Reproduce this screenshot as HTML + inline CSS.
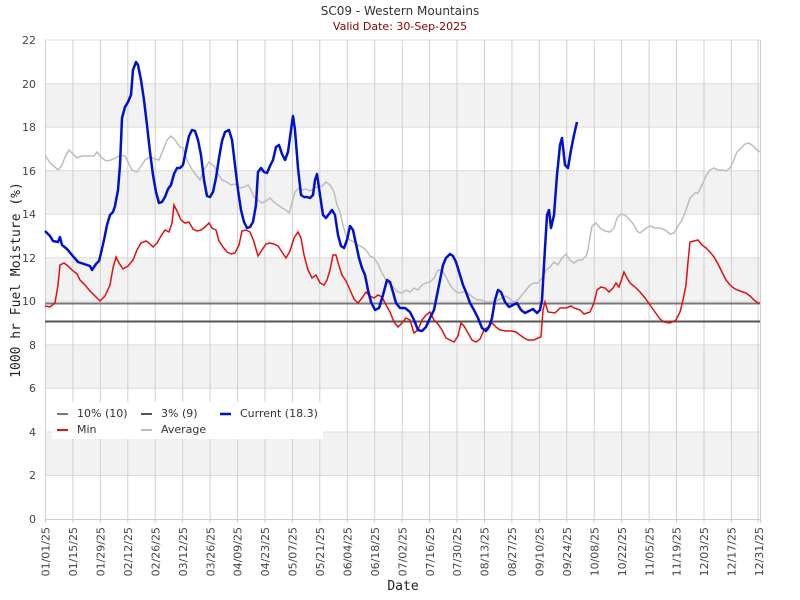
<!DOCTYPE html>
<html><head><meta charset="utf-8"><style>
body{margin:0;background:#fff;}
svg{display:block;font-family:"DejaVu Sans","Liberation Sans",sans-serif;}
</style></head><body>
<svg width="800" height="600" viewBox="0 0 800 600" xmlns="http://www.w3.org/2000/svg">
<rect width="800" height="600" fill="#fff"/>
<text x="400" y="15" text-anchor="middle" font-size="12" fill="#333">SC09 - Western Mountains</text>
<text x="400" y="30" text-anchor="middle" font-size="11" fill="#8b0000">Valid Date: 30-Sep-2025</text>
<!-- bands -->
<g fill="#f2f2f2">
<rect x="45" y="432" width="715" height="43.5"/>
<rect x="45" y="345" width="715" height="43.5"/>
<rect x="45" y="258" width="715" height="43.5"/>
<rect x="45" y="170.7" width="715" height="43.5"/>
<rect x="45" y="83.6" width="715" height="43.5"/>
</g>
<g stroke="#dcdcdc" stroke-width="1">
<line x1="45" y1="475.5" x2="760" y2="475.5"/><line x1="45" y1="432" x2="760" y2="432"/>
<line x1="45" y1="388.4" x2="760" y2="388.4"/><line x1="45" y1="344.9" x2="760" y2="344.9"/>
<line x1="45" y1="301.3" x2="760" y2="301.3"/><line x1="45" y1="257.8" x2="760" y2="257.8"/>
<line x1="45" y1="214.2" x2="760" y2="214.2"/><line x1="45" y1="170.7" x2="760" y2="170.7"/>
<line x1="45" y1="127.1" x2="760" y2="127.1"/><line x1="45" y1="83.6" x2="760" y2="83.6"/>
<line x1="45" y1="40" x2="760" y2="40"/>
</g>
<g stroke="#cfcfcf" stroke-width="1">
<line x1="45.5" y1="40" x2="45.5" y2="523"/><line x1="72.9" y1="40" x2="72.9" y2="523"/><line x1="100.3" y1="40" x2="100.3" y2="523"/><line x1="127.8" y1="40" x2="127.8" y2="523"/><line x1="155.2" y1="40" x2="155.2" y2="523"/><line x1="182.7" y1="40" x2="182.7" y2="523"/><line x1="210.1" y1="40" x2="210.1" y2="523"/><line x1="237.5" y1="40" x2="237.5" y2="523"/><line x1="265" y1="40" x2="265" y2="523"/><line x1="292.4" y1="40" x2="292.4" y2="523"/><line x1="319.8" y1="40" x2="319.8" y2="523"/><line x1="347.3" y1="40" x2="347.3" y2="523"/><line x1="374.7" y1="40" x2="374.7" y2="523"/><line x1="402.2" y1="40" x2="402.2" y2="523"/><line x1="429.6" y1="40" x2="429.6" y2="523"/><line x1="457" y1="40" x2="457" y2="523"/><line x1="484.5" y1="40" x2="484.5" y2="523"/><line x1="511.9" y1="40" x2="511.9" y2="523"/><line x1="539.3" y1="40" x2="539.3" y2="523"/><line x1="566.8" y1="40" x2="566.8" y2="523"/><line x1="594.2" y1="40" x2="594.2" y2="523"/><line x1="621.7" y1="40" x2="621.7" y2="523"/><line x1="649.1" y1="40" x2="649.1" y2="523"/><line x1="676.5" y1="40" x2="676.5" y2="523"/><line x1="704" y1="40" x2="704" y2="523"/><line x1="731.4" y1="40" x2="731.4" y2="523"/><line x1="758" y1="40" x2="758" y2="523"/><line x1="760.5" y1="40" x2="760.5" y2="523"/>
</g>
<line x1="45" y1="519.5" x2="760" y2="519.5" stroke="#cfcfcf"/>
<g font-size="11" fill="#444" text-anchor="end">
<text x="36" y="523">0</text><text x="36" y="479">2</text><text x="36" y="436">4</text><text x="36" y="392">6</text><text x="36" y="349">8</text><text x="36" y="305">10</text><text x="36" y="262">12</text><text x="36" y="218">14</text><text x="36" y="175">16</text><text x="36" y="131">18</text><text x="36" y="88">20</text><text x="36" y="44">22</text>
</g>
<g font-size="11" fill="#444" text-anchor="end">
<text transform="translate(49.5,527) rotate(-90)">01/01/25</text><text transform="translate(77,527) rotate(-90)">01/15/25</text><text transform="translate(104.5,527) rotate(-90)">01/29/25</text><text transform="translate(132,527) rotate(-90)">02/12/25</text><text transform="translate(159.5,527) rotate(-90)">02/26/25</text><text transform="translate(187,527) rotate(-90)">03/12/25</text><text transform="translate(214.5,527) rotate(-90)">03/26/25</text><text transform="translate(241.5,527) rotate(-90)">04/09/25</text><text transform="translate(269,527) rotate(-90)">04/23/25</text><text transform="translate(296.5,527) rotate(-90)">05/07/25</text><text transform="translate(324,527) rotate(-90)">05/21/25</text><text transform="translate(351.5,527) rotate(-90)">06/04/25</text><text transform="translate(379,527) rotate(-90)">06/18/25</text><text transform="translate(406.5,527) rotate(-90)">07/02/25</text><text transform="translate(434,527) rotate(-90)">07/16/25</text><text transform="translate(461,527) rotate(-90)">07/30/25</text><text transform="translate(488.5,527) rotate(-90)">08/13/25</text><text transform="translate(516,527) rotate(-90)">08/27/25</text><text transform="translate(543.5,527) rotate(-90)">09/10/25</text><text transform="translate(571,527) rotate(-90)">09/24/25</text><text transform="translate(598.5,527) rotate(-90)">10/08/25</text><text transform="translate(626,527) rotate(-90)">10/22/25</text><text transform="translate(653.5,527) rotate(-90)">11/05/25</text><text transform="translate(680.5,527) rotate(-90)">11/19/25</text><text transform="translate(708,527) rotate(-90)">12/03/25</text><text transform="translate(735.5,527) rotate(-90)">12/17/25</text><text transform="translate(763,527) rotate(-90)">12/31/25</text>
</g>
<text x="403" y="590" text-anchor="middle" font-size="13" fill="#222" font-family="DejaVu Sans Mono, monospace">Date</text>
<text transform="translate(20,280) rotate(-90)" text-anchor="middle" font-size="13" fill="#222" font-family="DejaVu Sans Mono, monospace">1000 hr Fuel Moisture (%)</text>
<!-- threshold lines -->
<line x1="45" y1="303.5" x2="760" y2="303.5" stroke="#777" stroke-width="2"/>
<line x1="45" y1="321.5" x2="760" y2="321.5" stroke="#555" stroke-width="2"/>
<!-- average -->
<polyline fill="none" stroke="#bdbdbd" stroke-width="1.5" points="45,155 50,163 55,167 58,170 62,165 65,157 69,150 73,154 77,158 82,156 88,156 94,156 97,152 101,157 106,161 111,160 116,158 120,155 125,156 128,162 132,170 137,172 141,166 145,160 150,157 155,159 159,160 163,150 167,140 171,136 175,140 180,147 183,148 187,160 191,168 196,175 200,180 204,170 209,162 214,166 218,174 222,180 227,182 231,185 235,184 240,188 244,187 248,185 251,190 254,197 258,200 262,203 266,201 270,198 274,202 278,205 282,208 286,210 289,213 292,203 295,192 299,188 302,190 306,189 310,191 314,188 318,187 322,186 326,182 330,185 334,192 337,205 340,212 343,225 346,236 350,240 354,242 358,245 362,247 366,250 370,256 374,258 378,264 382,273 386,280 390,284 394,288 398,292 402,293 406,290 410,292 414,288 418,290 422,285 426,283 430,282 434,278 438,270 442,270 446,277 450,285 454,290 458,293 462,292 466,292 470,295 474,298 478,300 482,300 486,302 490,302 494,302 498,300 502,298 506,296 510,299 514,302 518,300 522,295 526,290 530,285 534,283 538,283 542,278 546,270 550,267 554,262 558,265 562,258 566,254 570,260 574,263 578,260 582,260 586,256 588,250 590,237 592,226 596,223 600,228 605,231 610,232 614,228 617,218 621,214 625,215 630,220 634,225 637,231 640,233 645,229 650,226 655,228 660,228 665,230 670,234 674,233 678,226 682,220 686,210 690,198 695,193 698,193 702,185 706,176 710,170 714,168 718,170 722,170 726,171 730,168 733,162 737,152 741,148 745,144 749,143 753,146 757,150 760,152"/>
<!-- min -->
<polyline fill="none" stroke="#e01010" stroke-width="1.5" points="45,306 50,307 55,303 58,285 60,265 64,263 68,266 72,270 77,274 80,280 85,285 90,291 95,296 100,301 105,296 110,285 113,268 116,257 119,263 123,269 128,266 133,260 137,250 141,243 146,241 149,243 153,247 157,243 161,236 165,230 169,232 172,223 174,205 177,211 181,220 185,223 189,222 193,229 197,231 201,230 205,227 209,223 212,228 216,230 219,241 223,247 227,252 231,254 235,253 239,245 242,231 246,230 250,232 254,242 258,256 262,250 266,244 270,243 274,244 278,246 282,252 286,258 290,251 294,238 298,232 301,238 304,255 308,270 312,278 316,275 320,283 324,285 327,280 330,270 333,255 336,255 339,266 342,275 346,281 350,290 354,299 358,303 362,298 366,292 370,296 374,298 378,295 382,297 386,305 390,312 394,322 398,327 402,323 406,318 410,320 414,333 418,330 422,320 426,315 430,312 434,320 438,324 442,330 446,338 450,340 454,342 458,336 461,323 464,326 468,333 472,340 476,342 480,339 484,330 488,327 492,323 496,327 500,330 506,331 512,331 516,332 520,335 524,338 528,340 534,340 538,338 541,337 543,310 545,302 548,312 555,313 560,308 566,308 571,306 574,308 580,310 584,314 590,312 594,303 597,290 601,287 605,288 609,292 613,288 616,283 619,287 622,278 624,272 627,278 630,283 635,287 640,292 645,298 650,305 655,312 660,319 664,322 670,323 676,320 680,312 683,300 686,285 688,262 690,242 694,241 698,240 702,245 706,248 710,252 714,257 718,264 722,272 726,280 730,285 735,289 740,291 746,293 750,296 754,300 758,303 760,303"/>
<!-- current -->
<polyline fill="none" stroke="#0010d0" stroke-width="2.5" stroke-linejoin="round" points="45,231 50,236 53,241 58,242 60,237 62,245 67,249 72,255 78,262 84,264 90,266 92,270 96,264 99,261 101,253 104,240 107,225 110,215 113,212 115,206 118,190 120,165 122,118 125,107 128,102 131,95 133,70 136,62 138,65 141,80 144,100 147,125 150,152 153,175 156,192 159,203 162,202 165,197 168,189 171,185 174,174 177,168 180,168 183,165 186,150 189,136 192,130 195,131 198,140 201,155 204,180 207,196 210,197 213,192 216,178 219,158 222,141 225,132 229,130 232,140 235,165 238,190 241,210 244,222 247,228 250,227 253,222 256,205 258,172 261,168 264,172 267,173 270,166 273,160 276,147 279,145 282,154 285,160 288,152 291,130 293,116 295,130 298,168 301,195 304,197 307,197 310,198 313,195 315,180 317,174 320,195 323,215 326,218 329,214 332,210 335,215 338,235 341,246 344,248 347,240 350,226 353,230 356,244 359,258 362,268 365,275 368,290 371,302 375,310 379,308 383,295 387,280 390,282 393,292 396,303 400,308 405,308 410,312 414,320 418,330 422,331 426,327 430,318 434,310 437,295 440,280 443,265 446,258 450,254 453,256 456,262 460,275 463,285 466,292 470,303 474,310 478,318 482,328 486,331 489,327 492,318 495,300 498,290 501,292 505,302 509,307 513,305 517,303 521,310 525,313 529,311 533,309 537,313 540,310 542,300 544,265 547,215 549,210 551,228 554,215 557,175 560,145 562,138 565,165 568,168 571,150 574,135 577,122"/>
<!-- legend -->
<rect x="52" y="402" width="271" height="37" fill="#fff"/>
<g font-size="11" fill="#333">
<line x1="57" y1="414" x2="68" y2="414" stroke="#777" stroke-width="2"/><text x="77" y="417">10% (10)</text>
<line x1="141" y1="414" x2="152" y2="414" stroke="#555" stroke-width="2"/><text x="161" y="417">3% (9)</text>
<line x1="220" y1="414" x2="231" y2="414" stroke="#0010d0" stroke-width="2.5"/><text x="240" y="417">Current (18.3)</text>
<line x1="57" y1="430" x2="68" y2="430" stroke="#e01010" stroke-width="2"/><text x="77" y="433">Min</text>
<line x1="141" y1="430" x2="152" y2="430" stroke="#bdbdbd" stroke-width="2"/><text x="161" y="433">Average</text>
</g>
</svg>
</body></html>
